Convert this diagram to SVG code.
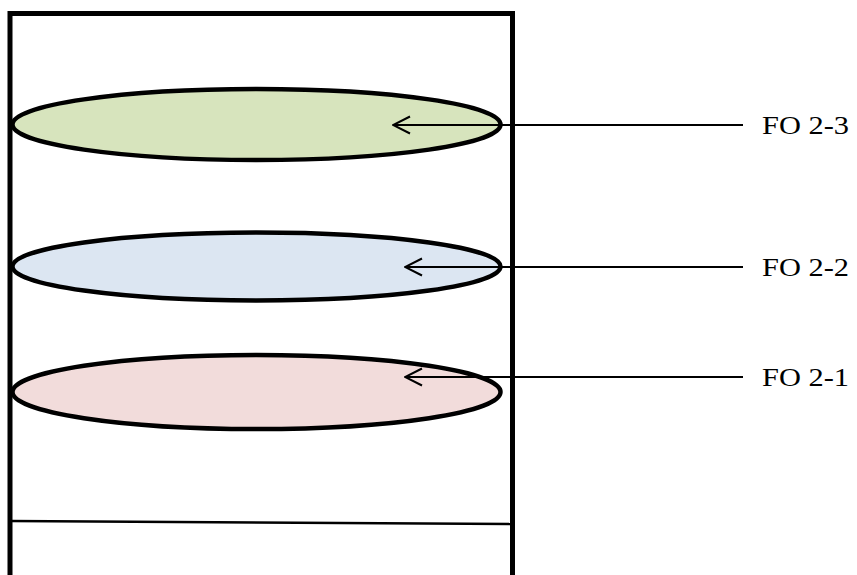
<svg xmlns="http://www.w3.org/2000/svg" width="857" height="575" viewBox="0 0 857 575">
<defs>
<style>
.frame{fill:none;stroke:#000;stroke-width:5}
.ell{stroke:#000;stroke-width:4.5}
.conn{stroke:#000;stroke-width:2;fill:none}
.lbl{font-family:"Liberation Serif","Times New Roman",serif;font-size:25px;fill:#000}
</style>
<marker id="arr" viewBox="0 0 20 20" refX="19" refY="10" markerWidth="20" markerHeight="20" markerUnits="userSpaceOnUse" orient="auto">
<path d="M2,1.5 L19,10 L2,18.5" fill="none" stroke="#000" stroke-width="2"/>
</marker>
</defs>
<rect width="857" height="575" fill="#fff"/>
<g id="container">
<path class="frame" d="M10,580 V13.5 H512.5 V580"/>
<line x1="10" y1="521" x2="512.5" y2="524" stroke="#000" stroke-width="2.5"/>
</g>
<g id="fo23">
<ellipse class="ell" cx="256.5" cy="124.5" rx="244" ry="35.5" fill="#d7e4bd"/>
</g>
<g id="fo22">
<ellipse class="ell" cx="256.5" cy="266.5" rx="244" ry="34" fill="#dce6f2"/>
</g>
<g id="fo21">
<ellipse class="ell" cx="256.5" cy="392" rx="244" ry="37" fill="#f2dcdb"/>
</g>
<g id="connectors">
<line class="conn" x1="743" y1="125" x2="393" y2="125" marker-end="url(#arr)"/>
<line class="conn" x1="743" y1="267" x2="405" y2="267" marker-end="url(#arr)"/>
<line class="conn" x1="743" y1="377" x2="405" y2="377" marker-end="url(#arr)"/>
</g>
<g id="labels">
<text class="lbl" x="762" y="134" textLength="87" lengthAdjust="spacingAndGlyphs">FO 2-3</text>
<text class="lbl" x="762" y="276" textLength="87" lengthAdjust="spacingAndGlyphs">FO 2-2</text>
<text class="lbl" x="762" y="386" textLength="87" lengthAdjust="spacingAndGlyphs">FO 2-1</text>
</g>
</svg>
